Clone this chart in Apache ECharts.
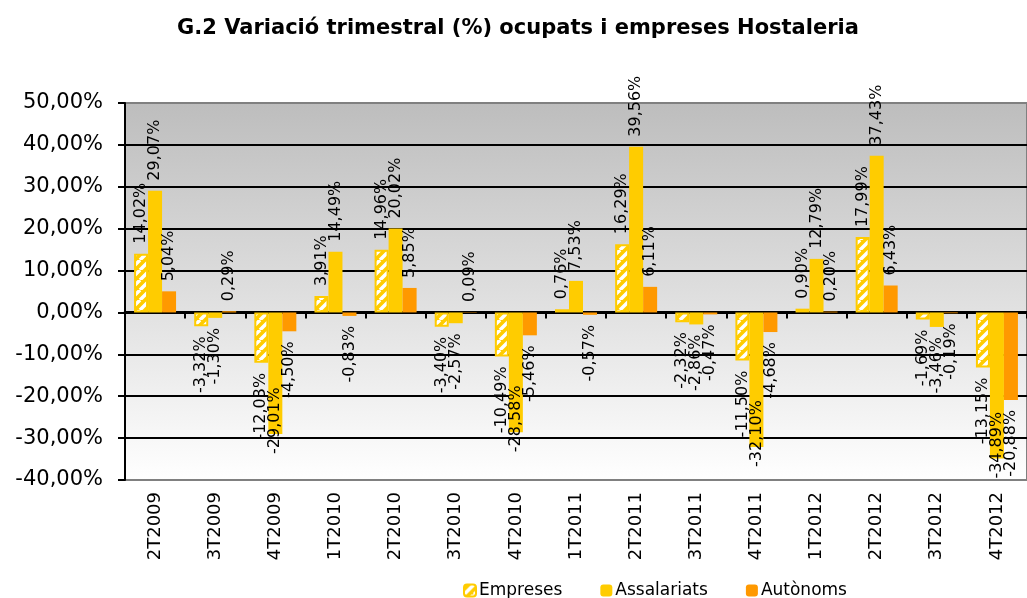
<!DOCTYPE html>
<html>
<head>
<meta charset="utf-8">
<script src="https://cdn.jsdelivr.net/npm/echarts@6/dist/echarts.min.js"></script>
<style>
html, body { margin: 0; padding: 0; background: #fff; }
#main { width: 1027px; height: 598px; }
</style>
</head>
<body>
<div id="main"></div>
<script>
var categories = ['2T2009','3T2009','4T2009','1T2010','2T2010','3T2010','4T2010','1T2011','2T2011','3T2011','4T2011','1T2012','2T2012','3T2012','4T2012'];
var empreses    = [14.02, -3.32, -12.03, 3.91, 14.96, -3.40, -10.49, 0.76, 16.29, -2.32, -11.50, 0.90, 17.99, -1.69, -13.15];
var assalariats = [29.07, -1.30, -29.01, 14.49, 20.02, -2.57, -28.58, 7.53, 39.56, -2.86, -32.10, 12.79, 37.43, -3.46, -34.89];
var autonoms    = [5.04, 0.29, -4.50, -0.83, 5.85, 0.09, -5.46, -0.57, 6.11, -0.47, -4.68, 0.20, 6.43, -0.19, -20.88];

var FONT = 'DejaVu Sans';

function fmt(v) {
    return v.toFixed(2).replace('.', ',') + '%';
}

// hatched fill for Empreses
function stripes() {
    var c = document.createElement('canvas');
    c.width = 10; c.height = 10;
    var ctx = c.getContext('2d');
    ctx.fillStyle = '#FFCC00';
    ctx.fillRect(0, 0, 10, 10);
    ctx.strokeStyle = '#ffffff';
    ctx.lineWidth = 3.5;
    ctx.beginPath();
    [-10, 0, 10].forEach(function (o) {
        ctx.moveTo(o, 10);
        ctx.lineTo(o + 10, 0);
    });
    ctx.stroke();
    return { image: c, repeat: 'repeat' };
}

function withLabels(values) {
    return values.map(function (v) {
        var lab;
        if (v >= 0) {
            lab = { position: 'top', align: 'left', verticalAlign: 'middle', distance: 10 };
        } else if (v < -25) {
            lab = { position: 'insideBottom', align: 'left', verticalAlign: 'middle', distance: -20 };
        } else {
            lab = { position: 'bottom', align: 'right', verticalAlign: 'middle', distance: 10 };
        }
        return { value: v, label: lab };
    });
}

var labelBase = {
    show: true,
    rotate: 90,
    fontSize: 16,
    fontFamily: FONT,
    color: '#000',
    formatter: function (p) { return fmt(p.value); }
};

var myChart = echarts.init(document.getElementById('main'));
var option = {
    backgroundColor: '#fff',
    animation: false,
    title: {
        text: 'G.2 Variació trimestral (%) ocupats i empreses Hostaleria',
        left: 172,
        top: 13,
        textStyle: { fontFamily: FONT, fontSize: 21, fontWeight: 'bold', color: '#000' }
    },
    legend: {
        left: 458,
        top: 577,
        itemWidth: 12,
        itemHeight: 12,
        itemGap: 38,
        textStyle: { fontFamily: FONT, fontSize: 17, color: '#000', padding: [0, 0, 0, -2] },
        data: ['Empreses', 'Assalariats', 'Autònoms']
    },
    grid: {
        left: 125,
        top: 103,
        width: 910,
        height: 377,
        show: true,
        borderColor: '#808080',
        borderWidth: 2,
        backgroundColor: new echarts.graphic.LinearGradient(0, 0, 0, 1, [
            { offset: 0, color: '#bdbdbd' },
            { offset: 1, color: '#ffffff' }
        ])
    },
    xAxis: [
        {
            type: 'category',
            data: categories,
            position: 'bottom',
            axisLine: { show: false, onZero: false },
            axisTick: { show: false },
            axisLabel: { rotate: 90, margin: 12, fontFamily: FONT, fontSize: 18, color: '#000' }
        },
        {
            type: 'category',
            data: categories,
            position: 'bottom',
            axisLine: { show: true, onZero: true, lineStyle: { color: '#000', width: 3 } },
            axisTick: { show: true, length: 6, lineStyle: { color: '#000', width: 2 } },
            axisLabel: { show: false }
        }
    ],
    yAxis: {
        type: 'value',
        min: -40,
        max: 50,
        interval: 10,
        axisLine: { show: true, lineStyle: { color: '#000', width: 2 } },
        axisTick: { show: true, length: 7, lineStyle: { color: '#000', width: 2 } },
        axisLabel: {
            margin: 22,
            fontFamily: FONT,
            fontSize: 21,
            color: '#000',
            formatter: function (v) { return fmt(v); }
        },
        splitLine: { show: true, showMinLine: false, showMaxLine: false, lineStyle: { color: '#000', width: 2 } }
    },
    series: [
        {
            name: 'Empreses',
            type: 'bar',
            barWidth: 14,
            barGap: '0%',
            itemStyle: { color: stripes(), borderColor: '#FFCC00', borderWidth: 2 },
            label: labelBase,
            data: withLabels(empreses)
        },
        {
            name: 'Assalariats',
            type: 'bar',
            barWidth: 14,
            barGap: '0%',
            itemStyle: { color: '#FFCC00' },
            label: labelBase,
            data: withLabels(assalariats)
        },
        {
            name: 'Autònoms',
            type: 'bar',
            barWidth: 14,
            barGap: '0%',
            itemStyle: { color: '#FF9900' },
            label: labelBase,
            data: withLabels(autonoms)
        }
    ]
};
myChart.setOption(option);
</script>
</body>
</html>
